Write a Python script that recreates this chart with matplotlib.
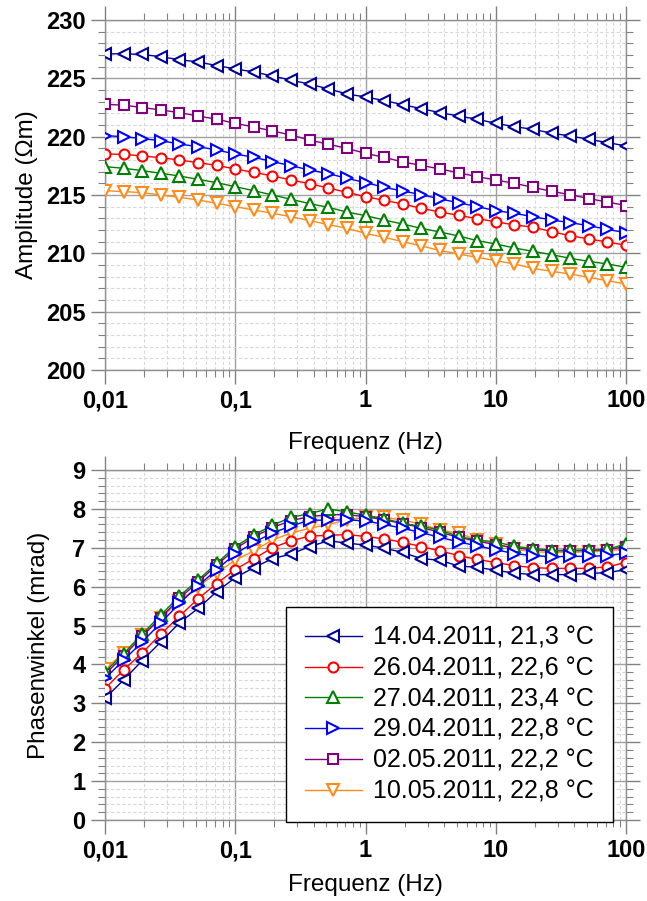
import numpy as np
import matplotlib
matplotlib.use("Agg")
import matplotlib.pyplot as plt
from matplotlib.ticker import FixedLocator, FixedFormatter, MultipleLocator, LogLocator, NullFormatter

plt.rcParams['font.family'] = ['Liberation Sans', 'DejaVu Sans']

freq = 10 ** np.linspace(-2, 2, 29)

labels = ["14.04.2011, 21,3 °C", "26.04.2011, 22,6 °C", "27.04.2011, 23,4 °C",
          "29.04.2011, 22,8 °C", "02.05.2011, 22,2 °C", "10.05.2011, 22,8 °C"]
colors = ["#00009B", "#FF0000", "#008000", "#0000FF", "#800080", "#FF8C1A"]
markers = ["<", "o", "^", ">", "s", "v"]
msizes = [8.2, 7.2, 8.2, 8.2, 6.5, 8.2]
zorders = [8, 7, 5, 6, 4, 3]

amp_14_04 = [227.1, 227.1, 227.05, 226.85, 226.6, 226.4, 226.1, 225.8, 225.55, 225.2, 224.85, 224.5, 224.1,
             223.66, 223.4, 223.1, 222.74, 222.4, 222.06, 221.77, 221.5, 221.14, 220.86, 220.63, 220.3,
             220.06, 219.77, 219.5, 219.2]
amp_26_04 = [218.51, 218.49, 218.34, 218.2, 218.0, 217.77, 217.54, 217.23, 216.94, 216.63, 216.29, 215.97,
             215.6, 215.23, 214.86, 214.54, 214.23, 213.86, 213.54, 213.26, 212.97, 212.71, 212.43, 212.25,
             211.86, 211.51, 211.23, 210.97, 210.69]
amp_27_04 = [217.43, 217.29, 217.09, 216.86, 216.63, 216.34, 216.06, 215.71, 215.37, 215.0, 214.63, 214.26,
             213.94, 213.54, 213.23, 212.86, 212.51, 212.14, 211.83, 211.49, 211.09, 210.8, 210.46, 210.17,
             209.89, 209.57, 209.31, 209.09, 208.8]
amp_29_04 = [220.09, 220.0, 219.83, 219.66, 219.37, 219.14, 218.86, 218.51, 218.23, 217.86, 217.51, 217.14,
             216.83, 216.43, 216.06, 215.66, 215.34, 215.03, 214.66, 214.34, 214.0, 213.66, 213.43, 213.14,
             212.86, 212.63, 212.37, 212.05, 211.77]
amp_02_05 = [222.77, 222.7, 222.5, 222.29, 222.06, 221.77, 221.5, 221.14, 220.83, 220.49, 220.14, 219.71,
             219.35, 219.0, 218.57, 218.23, 217.83, 217.54, 217.23, 216.91, 216.57, 216.29, 216.0, 215.66,
             215.31, 215.03, 214.69, 214.4, 214.09]
amp_10_05 = [215.37, 215.29, 215.2, 215.0, 214.8, 214.57, 214.29, 214.0, 213.71, 213.43, 213.14, 212.8,
             212.47, 212.14, 211.71, 211.37, 211.0, 210.63, 210.25, 209.94, 209.66, 209.37, 209.09, 208.71,
             208.46, 208.23, 207.94, 207.66, 207.37]

pha_14_04 = [3.13, 3.6, 4.1, 4.58, 5.07, 5.44, 5.87, 6.23, 6.49, 6.72, 6.84, 7.03, 7.18, 7.12, 7.07, 6.99,
             6.88, 6.72, 6.68, 6.53, 6.5, 6.42, 6.35, 6.31, 6.31, 6.31, 6.34, 6.36, 6.44]
pha_26_04 = [3.38, 3.86, 4.3, 4.78, 5.24, 5.69, 6.08, 6.44, 6.72, 7.0, 7.18, 7.3, 7.32, 7.34, 7.29, 7.23,
             7.14, 7.03, 6.92, 6.8, 6.7, 6.62, 6.54, 6.49, 6.47, 6.47, 6.47, 6.51, 6.62]
pha_27_04 = [3.81, 4.28, 4.78, 5.27, 5.76, 6.17, 6.6, 7.03, 7.33, 7.58, 7.78, 7.88, 8.0, 7.92, 7.84, 7.75,
             7.63, 7.55, 7.46, 7.29, 7.2, 7.15, 7.04, 6.98, 6.93, 6.94, 6.94, 6.96, 7.1]
pha_29_04 = [3.64, 4.11, 4.58, 5.07, 5.57, 6.02, 6.44, 6.84, 7.14, 7.38, 7.56, 7.71, 7.71, 7.72, 7.69, 7.6,
             7.5, 7.39, 7.27, 7.15, 7.05, 6.95, 6.85, 6.8, 6.77, 6.78, 6.78, 6.8, 6.86]
pha_02_05 = [3.75, 4.22, 4.72, 5.2, 5.7, 6.12, 6.55, 6.97, 7.28, 7.52, 7.7, 7.8, 7.85, 7.85, 7.8, 7.72,
             7.62, 7.52, 7.4, 7.27, 7.17, 7.08, 7.0, 6.95, 6.92, 6.92, 6.93, 6.95, 7.03]
pha_10_05 = [3.88, 4.3, 4.75, 5.2, 5.62, 6.0, 6.35, 6.68, 6.92, 7.2, 7.38, 7.5, 7.6, 7.72, 7.78, 7.78,
             7.71, 7.61, 7.46, 7.37, 7.21, 7.11, 6.96, 6.9, 6.88, 6.88, 6.9, 6.92, 6.97]

amps = [amp_14_04, amp_26_04, amp_27_04, amp_29_04, amp_02_05, amp_10_05]
phas = [pha_14_04, pha_26_04, pha_27_04, pha_29_04, pha_02_05, pha_10_05]

xticks = [0.01, 0.1, 1, 10, 100]
xticklabels = ["0,01", "0,1", "1", "10", "100"]

W, H = 647, 901
fig = plt.figure(figsize=(W / 100, H / 100), dpi=100)
ax1 = fig.add_axes([105 / W, 1 - 370 / H, 521 / W, 350 / H])
ax2 = fig.add_axes([105 / W, 1 - 820 / H, 521 / W, 350 / H])

def style(ax, ymin, ymax, ymaj, ymin_step):
    ax.set_xscale('log')
    ax.set_xlim(0.01, 100)
    ax.set_ylim(ymin, ymax)
    ax.xaxis.set_major_locator(FixedLocator(xticks))
    ax.xaxis.set_major_formatter(FixedFormatter(xticklabels))
    ax.xaxis.set_minor_locator(LogLocator(base=10, subs=np.arange(2, 10)))
    ax.xaxis.set_minor_formatter(NullFormatter())
    ax.yaxis.set_major_locator(MultipleLocator(ymaj))
    ax.yaxis.set_minor_locator(MultipleLocator(ymin_step))
    ax.grid(True, which='major', color='#a0a0a0', lw=1.0, ls='-', zorder=0)
    ax.grid(True, which='minor', color='#d8d8d8', lw=0.8, ls=(0, (3, 2)), zorder=0)
    ax.set_axisbelow(True)
    for s in ax.spines.values():
        s.set_color('#909090')
        s.set_linewidth(1.0)
    ax.tick_params(which='both', direction='out', color='#808080', top=True, right=True,
                   labeltop=False, labelright=False)
    ax.tick_params(which='major', length=10, width=1.0, labelsize=17, pad=4)
    ax.tick_params(which='minor', length=5, width=0.8)
    for lab in ax.get_xticklabels() + ax.get_yticklabels():
        lab.set_fontweight('bold')

style(ax1, 200, 230, 5, 1)
style(ax2, 0, 9, 1, 0.2)

for i in range(6):
    kw = dict(color=colors[i], marker=markers[i], ms=msizes[i], mfc='white', mec=colors[i],
              mew=1.5, lw=1.0, zorder=zorders[i], label=labels[i])
    ax1.plot(freq, amps[i], **kw)
    ax2.plot(freq, phas[i], **kw)

ax1.set_ylabel("Amplitude (Ωm)", fontsize=17.5, labelpad=6)
ax1.set_xlabel("Frequenz (Hz)", fontsize=17.5, labelpad=14)
ax2.set_ylabel("Phasenwinkel (mrad)", fontsize=17.5, labelpad=16)
ax2.set_xlabel("Frequenz (Hz)", fontsize=17.5, labelpad=8)

leg = ax2.legend(loc='upper left', bbox_to_anchor=(0.347, 0.609), fontsize=18,
                 frameon=True, fancybox=False, edgecolor='black', framealpha=1,
                 handlelength=2.3, handletextpad=0.45, labelspacing=0.27,
                 borderpad=0.75, borderaxespad=0)
leg.get_frame().set_linewidth(1.0)
leg.set_zorder(20)

fig.savefig("out.png", dpi=100)
